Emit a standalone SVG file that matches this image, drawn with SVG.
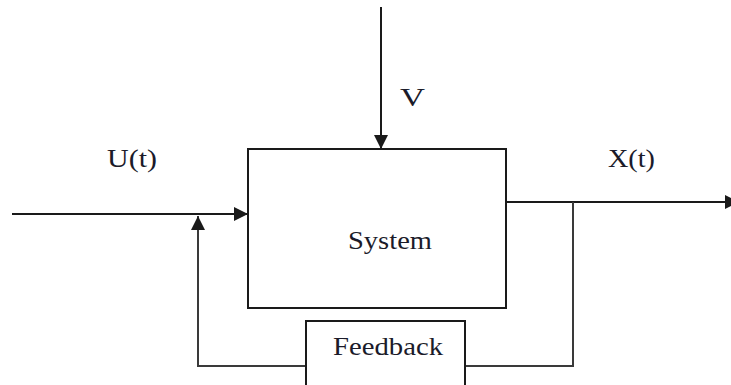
<svg xmlns="http://www.w3.org/2000/svg" width="731" height="385" viewBox="0 0 731 385">
  <style>
    .box { fill: #ffffff; stroke: #1a1a1a; stroke-width: 2; }
    .wire { fill: none; stroke: #1a1a1a; stroke-width: 2; }
    .loop { fill: none; stroke: #3a3a3a; stroke-width: 2; }
    .label { font-family: "Liberation Serif", "Times New Roman", serif; font-size: 26px; fill: #1b1b2a; }
  </style>
  <defs>
    <marker id="arrowBig" viewBox="0 0 10 10" refX="10" refY="5" markerWidth="14" markerHeight="14" markerUnits="userSpaceOnUse" orient="auto">
      <path d="M0,0 L10,5 L0,10 Z" fill="#1a1a1a"/>
    </marker>
  </defs>

  <g id="connectors">
    <!-- input U(t) into the system -->
    <line class="wire" x1="12" y1="214" x2="248" y2="214" marker-end="url(#arrowBig)"/>
    <!-- disturbance V from above -->
    <line class="wire" x1="381" y1="7" x2="381" y2="149" marker-end="url(#arrowBig)"/>
    <!-- output X(t), head runs off the right edge -->
    <line class="wire" x1="506" y1="202" x2="739" y2="202" marker-end="url(#arrowBig)"/>
    <!-- feedback loop: output tap down to feedback block -->
    <polyline class="loop" points="573,202 573,366 465,366"/>
    <!-- feedback block back to summing point -->
    <polyline class="loop" points="306,366 198,366 198,216" marker-end="url(#arrowBig)"/>
  </g>

  <g id="system">
    <rect class="box" x="248" y="149" width="258" height="159"/>
    <text class="label" x="348" y="249" textLength="84" lengthAdjust="spacingAndGlyphs">System</text>
  </g>

  <g id="feedback">
    <rect class="box" x="306" y="321" width="159" height="80"/>
    <text class="label" x="333" y="355" textLength="110" lengthAdjust="spacingAndGlyphs">Feedback</text>
  </g>

  <g id="labels">
    <text class="label" x="107" y="167" textLength="50" lengthAdjust="spacingAndGlyphs">U(t)</text>
    <text class="label" x="608" y="167" textLength="47" lengthAdjust="spacingAndGlyphs">X(t)</text>
    <text class="label" x="400" y="106" font-size="28" textLength="25" lengthAdjust="spacingAndGlyphs">V</text>
  </g>
</svg>
